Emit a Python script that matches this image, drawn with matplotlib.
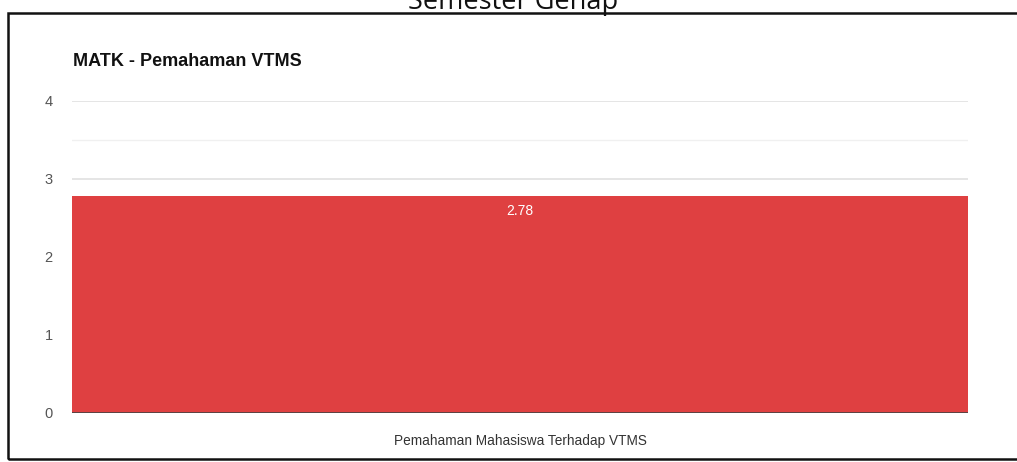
import matplotlib.pyplot as plt
from matplotlib.patches import Rectangle

categories = ['Pemahaman Mahasiswa Terhadap VTMS']
values = [2.78]
value_labels = ['2.78']
y_ticks = [0, 1, 2, 3, 4]

fig = plt.figure(figsize=(10.17, 4.62), dpi=100)
ax = fig.add_axes([72/1017, 49/462, 896/1017, 312/462])

# grid lines every 0.5, major ones a bit darker
for y in [0.5, 1.5, 2.5, 3.5]:
    ax.axhline(y, color='#f0f0f0', lw=1, zorder=0)
for y in y_ticks[1:]:
    ax.axhline(y, color='#e0e0e0', lw=1.2, zorder=0)

x = list(range(len(categories)))
bars = ax.bar(x, values, width=1.0, color='#df4041', zorder=2)
ax.axhline(0, color='#444444', lw=1.2, zorder=3)

for b, lab in zip(bars, value_labels):
    ax.text(b.get_x() + b.get_width()/2, b.get_height() - 0.1, lab,
            ha='center', va='top', color='white', fontsize=10,
            family='Liberation Sans', zorder=4)

ax.set_xlim(-0.5, 0.5)
ax.set_ylim(0, 4)
ax.set_yticks(y_ticks)
ax.set_yticklabels([str(t) for t in y_ticks], family='Liberation Sans', fontsize=10.5, color='#555555')
ax.set_xticks(x)
ax.set_xticklabels(categories, family='Liberation Sans', fontsize=9.8, color='#333333')
ax.tick_params(axis='y', length=0, pad=14)
ax.tick_params(axis='x', length=0, pad=15)
for s in ax.spines.values():
    s.set_visible(False)

fig.text(73/1017, 1 - 62/462, 'MATK - Pemahaman VTMS', family='Liberation Sans',
         fontweight='bold', fontsize=13, ha='left', va='center', color='#111111')

# screenshot frame and cut-off heading
fig.patches.append(Rectangle((8/1017, 3/462), 1.1, 446/462, transform=fig.transFigure,
                             fill=False, ec='#111111', lw=1.8, clip_on=False))
fig.text(0.504, 1 - 8.5/462, 'Semester Genap', family='Open Sans', fontsize=19.5,
         ha='center', va='baseline', color='#111111')

fig.savefig('out.png', dpi=100)
